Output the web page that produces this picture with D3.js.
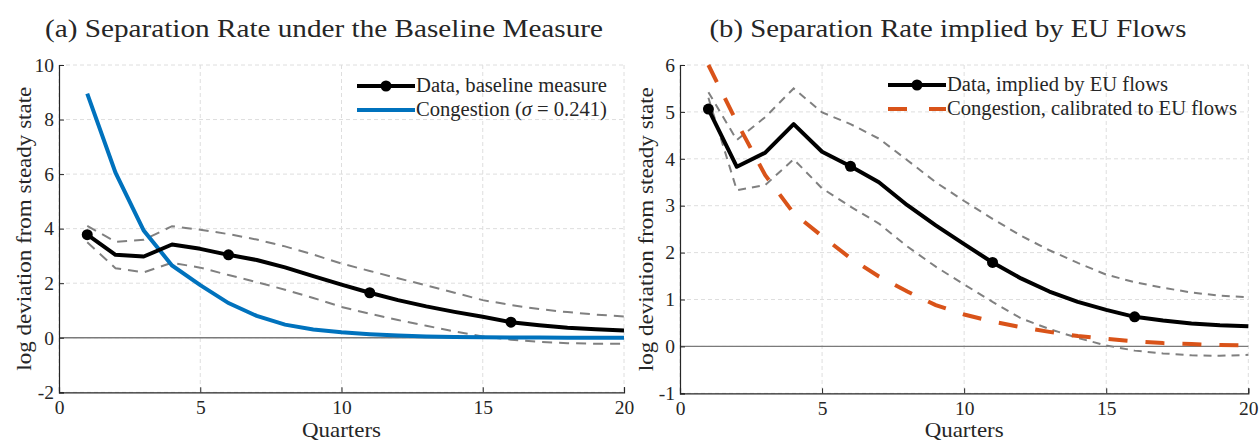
<!DOCTYPE html>
<html>
<head>
<meta charset="utf-8">
<script src="https://cdn.jsdelivr.net/npm/d3@7"></script>
<style>
  body { margin: 0; background: #fff; }
  svg text { font-family: "Liberation Serif", "DejaVu Serif", serif; fill: #262626; }
</style>
</head>
<body>
<svg id="chart" width="1259" height="443"></svg>
<script>
// quarters after the shock
const quarters = [1, 2, 3, 4, 5, 6, 7, 8, 9, 10, 11, 12, 13, 14, 15, 16, 17, 18, 19, 20]

// panel (a): baseline measure
const baseData = [3.78, 3.04, 2.98, 3.42, 3.26, 3.04, 2.85, 2.58, 2.26, 1.95, 1.65, 1.38, 1.15, 0.95, 0.77, 0.57, 0.46, 0.37, 0.31, 0.27]
const baseUpper = [4.1, 3.52, 3.59, 4.09, 3.96, 3.8, 3.6, 3.35, 3.05, 2.72, 2.45, 2.18, 1.92, 1.65, 1.38, 1.2, 1.05, 0.94, 0.85, 0.78]
const baseLower = [3.5, 2.55, 2.4, 2.75, 2.57, 2.3, 2.04, 1.76, 1.46, 1.13, 0.88, 0.65, 0.44, 0.23, 0.05, -0.07, -0.15, -0.2, -0.22, -0.22]
const congestion = [8.95, 6.05, 3.93, 2.65, 1.93, 1.27, 0.8, 0.48, 0.3, 0.2, 0.13, 0.08, 0.05, 0.03, 0.02, 0.01, 0.01, 0.0, 0.0, 0.0]

// panel (b): implied by EU flows
const euData = [5.06, 3.83, 4.13, 4.74, 4.15, 3.84, 3.5, 3.01, 2.58, 2.18, 1.79, 1.45, 1.17, 0.95, 0.78, 0.63, 0.55, 0.49, 0.45, 0.43]
const euUpper = [5.42, 4.4, 4.89, 5.5, 4.99, 4.74, 4.43, 3.97, 3.5, 3.1, 2.72, 2.36, 2.05, 1.78, 1.53, 1.37, 1.25, 1.15, 1.08, 1.05]
const euLower = [5.3, 3.33, 3.44, 3.99, 3.37, 2.98, 2.62, 2.13, 1.7, 1.32, 0.95, 0.6, 0.37, 0.18, 0.02, -0.09, -0.15, -0.19, -0.2, -0.18]
const euCongestion = [6.0, 4.78, 3.65, 2.84, 2.35, 1.88, 1.49, 1.17, 0.88, 0.68, 0.53, 0.41, 0.31, 0.22, 0.16, 0.11, 0.07, 0.05, 0.03, 0.02]

const markerQuarters = [1, 6, 11, 16]
const xTicks = [0, 5, 10, 15, 20]
const yTicksA = [-2, 0, 2, 4, 6, 8, 10]
const yTicksB = [-1, 0, 1, 2, 3, 4, 5, 6]

const titles = ["(a) Separation Rate under the Baseline Measure", "(b) Separation Rate implied by EU Flows"]
const legendA = ["Data, baseline measure", "Congestion"]
const legendB = ["Data, implied by EU flows", "Congestion, calibrated to EU flows"]

const colBlue = "#0072BD"
const colOrange = "#D95319"
const colBand = "#808080"

const svg = d3.select("#chart")

// stretch a text to a measured width (the original uses wider TeX fonts)
function fit(sel, w) {
    sel.attr("textLength", w).attr("lengthAdjust", "spacingAndGlyphs")
    return sel
}

function drawPanel(opt) {
    const g = svg.append("g")
    const x = d3.scaleLinear().domain([0, 20]).range([opt.left, opt.right])
    const y = d3.scaleLinear().domain(opt.yDomain).range([opt.bottom, opt.top])

    // grid
    g.append("g").selectAll("line").data(opt.yTicks).join("line")
        .attr("x1", opt.left).attr("x2", opt.right)
        .attr("y1", d => y(d)).attr("y2", d => y(d))
        .attr("stroke", "#dedede").attr("stroke-width", 1).attr("stroke-dasharray", "4,3")
    g.append("g").selectAll("line").data(xTicks).join("line")
        .attr("x1", d => x(d)).attr("x2", d => x(d))
        .attr("y1", opt.top).attr("y2", opt.bottom)
        .attr("stroke", "#dedede").attr("stroke-width", 1).attr("stroke-dasharray", "4,3")

    // zero line
    g.append("line")
        .attr("x1", opt.left).attr("x2", opt.right)
        .attr("y1", y(0)).attr("y2", y(0))
        .attr("stroke", "#7a7a7a").attr("stroke-width", 1.3)

    // axes
    const xAxis = g.append("g").attr("transform", `translate(0,${opt.bottom})`)
        .call(d3.axisBottom(x).tickValues(xTicks).tickFormat(d => String(d)).tickSize(-5).tickPadding(8))
    const yAxis = g.append("g").attr("transform", `translate(${opt.left},0)`)
        .call(d3.axisLeft(y).tickValues(opt.yTicks).tickFormat(d => String(d)).tickSize(-5).tickPadding(5))
    for (const ax of [xAxis, yAxis]) {
        ax.select(".domain").attr("stroke", "#262626").attr("stroke-width", 1.2)
        ax.selectAll(".tick line").attr("stroke", "#262626")
        ax.selectAll("text").style("font-size", "19.5px").attr("fill", "#262626")
            .style("font-family", "'Liberation Serif', serif")
    }

    const line = d3.line().x((d, i) => x(quarters[i])).y(d => y(d))

    // confidence bands
    for (const band of opt.bands) {
        g.append("path").datum(band).attr("d", line)
            .attr("fill", "none").attr("stroke", colBand).attr("stroke-width", 2)
            .attr("stroke-dasharray", opt.bandDash)
    }

    // model line
    g.append("path").datum(opt.model).attr("d", line)
        .attr("fill", "none").attr("stroke", opt.modelColor).attr("stroke-width", 4)
        .attr("stroke-dasharray", opt.modelDash || null)

    // data line
    g.append("path").datum(opt.data).attr("d", line)
        .attr("fill", "none").attr("stroke", "#000").attr("stroke-width", 4)
        .attr("stroke-linejoin", "round")
    g.selectAll("circle.mk").data(markerQuarters).join("circle")
        .attr("cx", d => x(d)).attr("cy", d => y(opt.data[quarters.indexOf(d)]))
        .attr("r", 5.5).attr("fill", "#000")

    // title
    fit(svg.append("text").attr("x", opt.titleX).attr("y", 37)
        .attr("text-anchor", "middle").style("font-size", "25px").attr("fill", "#111")
        .text(opt.title), opt.titleW)

    // axis labels
    fit(svg.append("text").attr("x", (opt.left + opt.right) / 2).attr("y", 437)
        .attr("text-anchor", "middle").style("font-size", "21px")
        .text("Quarters"), 79)
    fit(svg.append("text")
        .attr("transform", `translate(${opt.yLabelX},${(opt.top + opt.bottom) / 2}) rotate(-90)`)
        .attr("text-anchor", "middle").style("font-size", "21px")
        .text("log deviation from steady state"), 284)

    // legend
    const lg = svg.append("g")
    const lx0 = opt.legendX, lx1 = opt.legendX + 58
    const rows = [opt.legendY, opt.legendY + 24]
    lg.append("line").attr("x1", lx0).attr("x2", lx1).attr("y1", rows[0]).attr("y2", rows[0])
        .attr("stroke", "#000").attr("stroke-width", 4)
    lg.append("circle").attr("cx", (lx0 + lx1) / 2).attr("cy", rows[0]).attr("r", 5.5).attr("fill", "#000")
    lg.append("line").attr("x1", lx0).attr("x2", lx1).attr("y1", rows[1]).attr("y2", rows[1])
        .attr("stroke", opt.modelColor).attr("stroke-width", 4)
        .attr("stroke-dasharray", opt.legendDash || null)
    const t1 = lg.append("text").attr("x", lx1 + 1).attr("y", rows[0] + 6).style("font-size", "20px")
        .attr("fill", "#111").text(opt.legend[0])
    const t2 = lg.append("text").attr("x", lx1 + 1).attr("y", rows[1] + 6).style("font-size", "20px")
        .attr("fill", "#111").text(opt.legend[1])
    if (opt.sigma) {
        t2.append("tspan").text(" (")
        t2.append("tspan").style("font-style", "italic").text("σ")
        t2.append("tspan").text(" = 0.241)")
    }
    fit(t1, opt.legendW[0])
    fit(t2, opt.legendW[1])
}

drawPanel({
    left: 59, right: 624, top: 65, bottom: 392.3,
    yDomain: [-2, 10], yTicks: yTicksA,
    data: baseData, bands: [baseUpper, baseLower], bandDash: "10,7",
    model: congestion, modelColor: colBlue,
    title: titles[0], titleX: 324, titleW: 558,
    yLabelX: 31,
    legend: legendA, legendX: 357, legendY: 86, legendW: [191, 191], sigma: true
})

drawPanel({
    left: 680, right: 1248.3, top: 65, bottom: 393.3,
    yDomain: [-1, 6], yTicks: yTicksB,
    data: euData, bands: [euUpper, euLower], bandDash: "8,6",
    model: euCongestion, modelColor: colOrange, modelDash: "19,18",
    title: titles[1], titleX: 948, titleW: 477,
    yLabelX: 653,
    legend: legendB, legendX: 888, legendY: 85, legendW: [221, 290], legendDash: "19,22"
})
</script>
</body>
</html>
